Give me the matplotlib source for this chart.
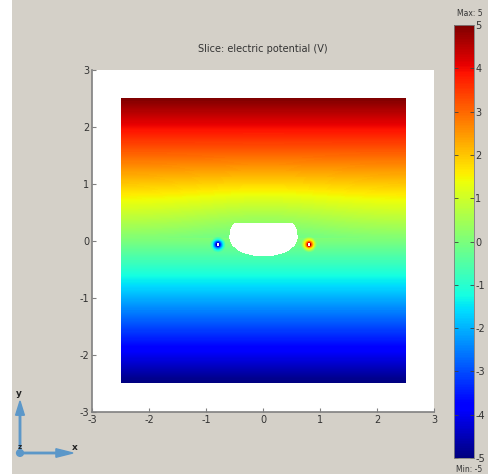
import numpy as np
import matplotlib
matplotlib.use("Agg")
import matplotlib.pyplot as plt
from matplotlib.patches import Rectangle, Circle, FancyArrow

# === data ===
domain = [-2.5, 2.5]                 # slice extent (x and y)
v_bottom, v_top = -5.0, 5.0          # potential on bottom / top boundary
hole_top_y, hole_mid_y, hole_bot_y = 0.3, 0.05, -0.28
hole_top_half, hole_mid_half = 0.5, 0.6
electrode_x = [-0.8, 0.8]
electrode_y = [-0.07, -0.07]
electrode_v = [-5.0, 5.0]
electrode_r_in, electrode_r_out = 0.025, 0.14
axis_ticks = [-3, -2, -1, 0, 1, 2, 3]
cbar_ticks = [-5, -4, -3, -2, -1, 0, 1, 2, 3, 4, 5]

BG = "#d4d0c8"
TXT = "#333333"

# --- potential field ---
n = 900
xs = np.linspace(domain[0], domain[1], n)
ys = np.linspace(domain[0], domain[1], n)
X, Y = np.meshgrid(xs, ys)
E = (v_top - v_bottom) / (domain[1] - domain[0])
# field bends slightly around the hole
V = v_bottom + E * (Y - domain[0]) - 0.35 * np.exp(-X**2 / 2.0) * np.exp(-(Y - 0.4)**2 / 0.5) * (Y > hole_mid_y)

mask = np.zeros_like(V, dtype=bool)
for ex, ey, ev in zip(electrode_x, electrode_y, electrode_v):
    r = np.hypot(X - ex, Y - ey)
    w = np.clip(np.log(electrode_r_out / np.maximum(r, electrode_r_in)) /
                np.log(electrode_r_out / electrode_r_in), 0, 1)
    V = V * (1 - w) + ev * w
    mask |= r < electrode_r_in * 0.9

t = np.clip((Y - hole_mid_y) / (hole_top_y - hole_mid_y), 0, 1)
upper_half = hole_top_half + (hole_mid_half - hole_top_half) * np.sqrt(1 - t**2)
upper = (Y >= hole_mid_y) & (Y <= hole_top_y) & (np.abs(X) <= upper_half)
lower = (Y < hole_mid_y) & ((X / hole_mid_half)**2 + ((Y - hole_mid_y) / (hole_mid_y - hole_bot_y))**2 <= 1)
mask |= upper | lower

Vm = np.ma.masked_array(V, mask=mask)

fig = plt.figure(figsize=(4.88, 4.74), dpi=100, facecolor=BG)
fig.patches.append(Rectangle((0, 0), 12 / 488, 1, transform=fig.transFigure,
                             facecolor="white", edgecolor="none", zorder=0))

ax = fig.add_axes([92 / 488, 62 / 474, 342 / 488, 342 / 474])
ax.set_facecolor("white")
im = ax.imshow(Vm, extent=[domain[0], domain[1], domain[0], domain[1]], origin="lower",
               cmap="jet", vmin=-5, vmax=5, interpolation="nearest")
ax.set_xlim(-3, 3)
ax.set_ylim(-3, 3)
ax.set_xticks(axis_ticks)
ax.set_yticks(axis_ticks)
ax.set_xticklabels([str(t) for t in axis_ticks])
ax.set_yticklabels([str(t) for t in axis_ticks])
for s in ["top", "right"]:
    ax.spines[s].set_visible(False)
for s in ["left", "bottom"]:
    ax.spines[s].set_color("#808080")
    ax.spines[s].set_linewidth(1.2)
ax.tick_params(direction="in", length=3, width=0.8, color="#808080",
               labelsize=7, labelcolor=TXT, pad=2)
ax.set_title("Slice: electric potential (V)", fontsize=7, color=TXT, pad=13)

cax = fig.add_axes([454 / 488, 16 / 474, 20 / 488, 433 / 474])
cb = fig.colorbar(im, cax=cax, ticks=cbar_ticks)
cb.outline.set_edgecolor("#808080")
cb.outline.set_linewidth(0.6)
cax.tick_params(direction="in", length=3, width=0.6, color="#404040",
                labelsize=7, labelcolor=TXT, left=True, right=True, pad=1)
cax.set_yticklabels([str(t) for t in cbar_ticks])
fig.text(470 / 488, 1 - 13 / 474, "Max: 5", fontsize=5.5, color=TXT, ha="center", va="center")
fig.text(469 / 488, 1 - 469 / 474, "Min: -5", fontsize=5.5, color=TXT, ha="center", va="center")

# axis triad
tri = "#5b97c9"
ox, oy = 20 / 488, 1 - 453 / 474
fig.patches.append(Circle((ox, oy), 0.007, transform=fig.transFigure, color=tri, zorder=5))
fig.add_artist(FancyArrow(ox, oy, 0, (453 - 401) / 474, width=0.003,
               head_width=0.018, head_length=0.03, length_includes_head=True,
               transform=fig.transFigure, color=tri))
fig.add_artist(FancyArrow(ox, oy, (73 - 20) / 488, 0, width=0.003,
               head_width=0.018, head_length=0.035, length_includes_head=True,
               transform=fig.transFigure, color=tri))
fig.text(19 / 488, 1 - 393 / 474, "y", fontsize=6.5, fontweight="bold", color="#222222", ha="center", va="center")
fig.text(75 / 488, 1 - 448 / 474, "x", fontsize=6.5, fontweight="bold", color="#222222", ha="center", va="center")
fig.text(20 / 488, 1 - 447 / 474, "z", fontsize=5, fontweight="bold", color="#222222", ha="center", va="center")

fig.savefig("out.png", dpi=100, facecolor=BG)
